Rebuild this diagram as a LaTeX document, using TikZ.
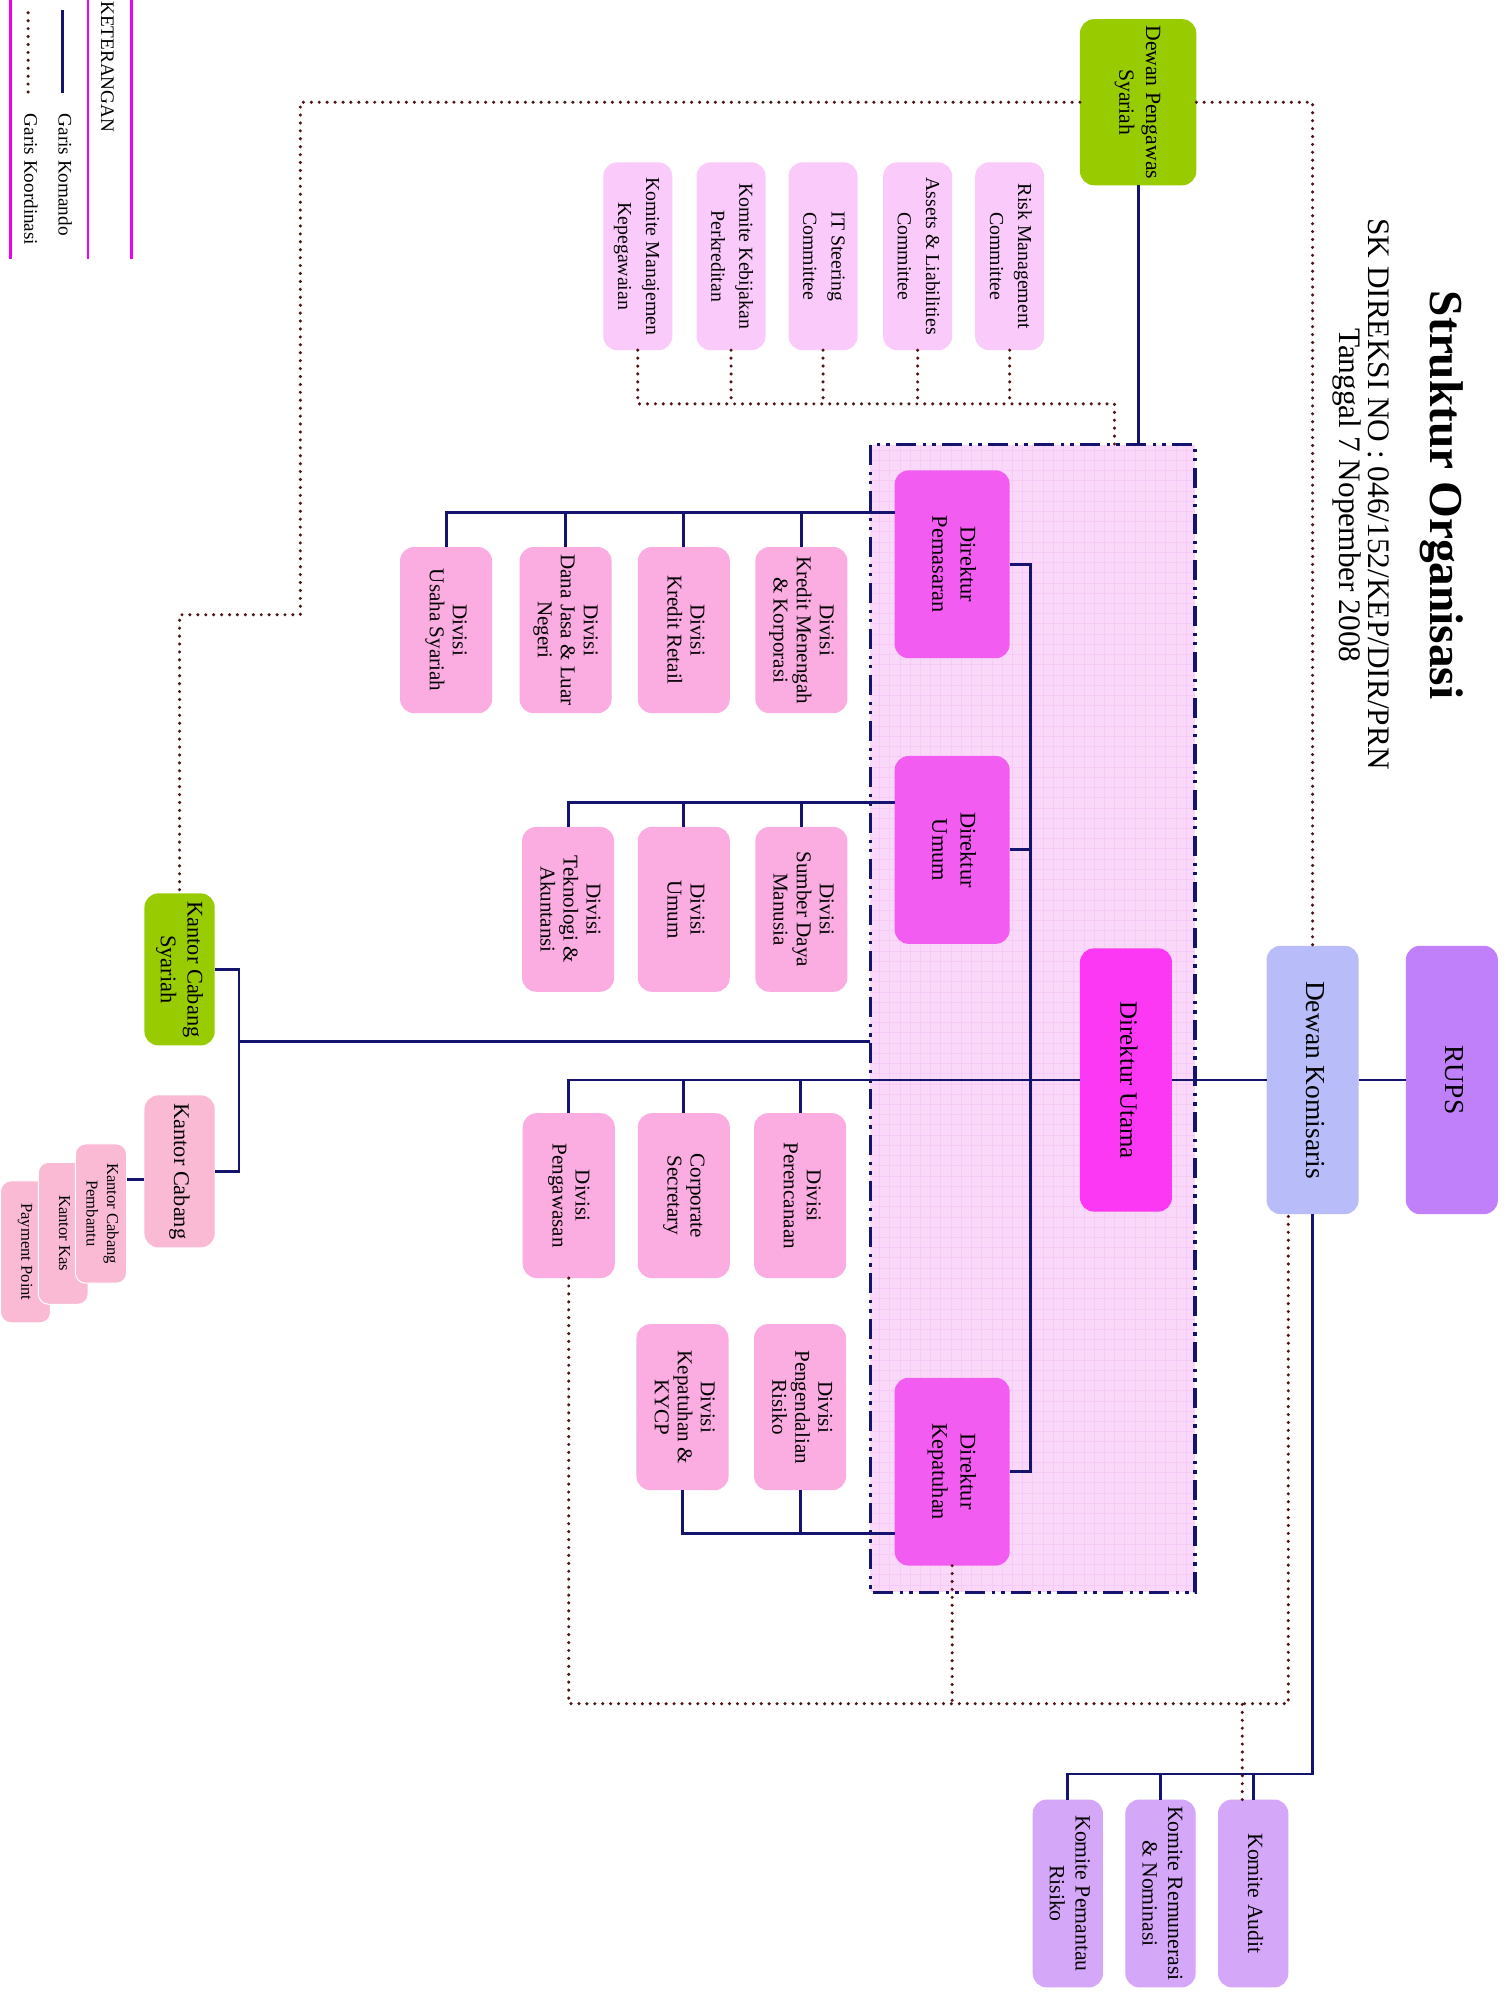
\documentclass[tikz,border=0pt]{standalone}
\usepackage{fontspec}
\setmainfont{Liberation Serif}
\usepackage{graphicx}
\usetikzlibrary{calc}
\definecolor{navy}{RGB}{20,20,110}
\definecolor{dotc}{RGB}{80,20,20}
\definecolor{rupsC}{RGB}{191,128,250}
\definecolor{dkC}{RGB}{184,189,250}
\definecolor{duC}{RGB}{252,56,245}
\definecolor{dirC}{RGB}{242,92,240}
\definecolor{divC}{RGB}{251,172,224}
\definecolor{comC}{RGB}{250,202,250}
\definecolor{komC}{RGB}{213,167,248}
\definecolor{grnC}{RGB}{153,204,0}
\definecolor{kcC}{RGB}{250,186,212}
\definecolor{boardC}{RGB}{250,216,250}
\definecolor{gridC}{RGB}{246,203,246}
\definecolor{legC}{RGB}{240,0,240}
\newcommand{\vt}[3]{\rotatebox{-90}{\fontsize{#1}{#2}\selectfont\begin{tabular}{@{}c@{}}#3\end{tabular}}}
\tikzset{
  box/.style={rounded corners=11pt, inner sep=0pt, outer sep=0pt},
  sbox/.style={rounded corners=8pt, inner sep=0pt, outer sep=0pt, draw=white, line width=0.8pt},
  sz/.style 2 args={minimum width=#1pt, minimum height=#2pt},
  cmd/.style={draw=navy, line width=2.3pt},
  crd/.style={draw=dotc, line width=2.7pt, line cap=round, dash pattern=on 0pt off 6.2pt},
  bd/.style={draw=navy, line width=2.5pt, dash pattern=on 16pt off 5pt on 2.5pt off 5pt on 2.5pt off 5pt},
  lbl/.style={inner sep=0pt, outer sep=0pt}
}
\begin{document}
\begin{tikzpicture}[x=1pt,y=-1pt]
\fill[white] (0,0) rectangle (1178,1568);
\useasboundingbox (0,0) rectangle (1178,1568);

% legend
\draw[legC, line width=2pt] (8,0) -- (8,203);
\draw[legC, line width=2pt] (69,0) -- (69,203);
\draw[legC, line width=2pt] (103,0) -- (103,203);
\node[lbl, anchor=north] (ket) at (84,1) {\rotatebox{-90}{\fontsize{15}{18}\selectfont KETERANGAN}};
\draw[cmd] (49,8) -- (49,73);
\node[lbl, anchor=north] (gk) at (51,89) {\rotatebox{-90}{\fontsize{15}{18}\selectfont Garis Komando}};
\draw[crd] (22,10) -- (22,72);
\node[lbl, anchor=north] (gko) at (24.3,89) {\rotatebox{-90}{\fontsize{15}{18}\selectfont Garis Koordinasi}};

% titles
\node[lbl] (title) at (1128,387.5) {\rotatebox{-90}{\fontsize{37}{40}\selectfont\bfseries Struktur Organisasi}};
\node[lbl] (sk) at (1079,386.5) {\rotatebox{-90}{\fontsize{24.5}{28}\selectfont SK DIREKSI NO : 046/152/KEP/DIR/PRN}};
\node[lbl] (tgl) at (1054,387.5) {\rotatebox{-90}{\fontsize{24.5}{28}\selectfont Tanggal 7 Nopember 2008}};

% board of directors area
\node[fill=boardC, sz={254}{898}, inner sep=0pt, outer sep=0pt] (board) at (808,797) {};
\begin{scope}
\clip (board.south west) rectangle (board.north east);
\draw[gridC, line width=0.35pt, step=8pt] (board.south west) grid (board.north east);
\end{scope}
\draw[bd] (board.north west) rectangle (board.south east);

% top level
\node[box, fill=rupsC, sz={72}{210}] (rups) at (1136,845) {\vt{21.5}{24}{RUPS}};
\node[box, fill=dkC, sz={72}{210}] (dk) at (1027,845) {\vt{21.5}{24}{Dewan Komisaris}};
\node[box, fill=duC, sz={72}{206}] (du) at (881,845) {\vt{19.5}{22}{Direktur Utama}};
\node[box, fill=grnC, sz={91}{130}] (dps) at (890.5,80) {\vt{17}{21}{Dewan Pengawas\\Syariah}};

% committees (top)
\node[box, fill=comC, sz={54}{147}] (rmc) at (790,200.5) {\vt{15.5}{22}{Risk Management\\Committee}};
\node[box, fill=comC, sz={54}{147}] (alc) at (718,200.5) {\vt{15.5}{22}{Assets \& Liabilities\\Committee}};
\node[box, fill=comC, sz={54}{147}] (itc) at (644,200.5) {\vt{15.5}{22}{IT Steering\\Committee}};
\node[box, fill=comC, sz={54}{147}] (kkp) at (572,200.5) {\vt{15.5}{22}{Komite Kebijakan\\Perkreditan}};
\node[box, fill=comC, sz={54}{147}] (kmj) at (499,200.5) {\vt{15.5}{22}{Komite Manajemen\\Kepegawaian}};

% directors
\node[box, fill=dirC, sz={90}{147}] (dpem) at (745,441.5) {\vt{17.5}{22}{Direktur\\Pemasaran}};
\node[box, fill=dirC, sz={90}{147}] (dum) at (745,665) {\vt{17.5}{22}{Direktur\\Umum}};
\node[box, fill=dirC, sz={90}{147}] (dkep) at (745,1151.5) {\vt{17.5}{22}{Direktur\\Kepatuhan}};

% divisions - Pemasaran
\node[box, fill=divC, sz={72}{130}] (dkm) at (627,493) {\vt{16.5}{18}{Divisi\\Kredit Menengah\\\& Korporasi}};
\node[box, fill=divC, sz={72}{130}] (dkr) at (535,493) {\vt{16.5}{18}{Divisi\\Kredit Retail}};
\node[box, fill=divC, sz={72}{130}] (ddj) at (442.5,493) {\vt{16.5}{18}{Divisi\\Dana Jasa \& Luar\\Negeri}};
\node[box, fill=divC, sz={72}{130}] (dus) at (349,493) {\vt{16.5}{18}{Divisi\\Usaha Syariah}};
% Umum
\node[box, fill=divC, sz={72}{129}] (dsdm) at (627,711.5) {\vt{16.5}{18}{Divisi\\Sumber Daya\\Manusia}};
\node[box, fill=divC, sz={72}{129}] (dumum) at (535,711.5) {\vt{16.5}{18}{Divisi\\Umum}};
\node[box, fill=divC, sz={72}{129}] (dtek) at (444.5,711.5) {\vt{16.5}{18}{Divisi\\Teknologi \&\\Akuntansi}};
% Utama
\node[box, fill=divC, sz={72}{129}] (dper) at (626,935.5) {\vt{16.5}{18}{Divisi\\Perencanaan}};
\node[box, fill=divC, sz={72}{129}] (dcs) at (535,935.5) {\vt{16.5}{18}{Corporate\\Secretary}};
\node[box, fill=divC, sz={72}{129}] (dpeng) at (445,935.5) {\vt{16.5}{18}{Divisi\\Pengawasan}};
% Kepatuhan
\node[box, fill=divC, sz={72}{130}] (dpr) at (626,1101) {\vt{16.5}{18}{Divisi\\Pengendalian\\Risiko}};
\node[box, fill=divC, sz={72}{130}] (dkyc) at (534,1101) {\vt{16.5}{18}{Divisi\\Kepatuhan \&\\KYCP}};

% komite (bottom)
\node[box, fill=komC, sz={55}{147}] (kau) at (980.5,1481.5) {\vt{17}{20}{Komite Audit}};
\node[box, fill=komC, sz={55}{147}] (krn) at (908,1481.5) {\vt{17}{20}{Komite Remunerasi\\\& Nominasi}};
\node[box, fill=komC, sz={55}{147}] (kpr) at (835.5,1481.5) {\vt{17}{20}{Komite Pemantau\\Risiko}};

% branches
\node[box, fill=grnC, sz={55}{119}] (kcs) at (140.5,758.5) {\vt{17.5}{21}{Kantor Cabang\\Syariah}};
\node[box, fill=kcC, sz={55}{119}] (kc) at (140.5,916.5) {\vt{17.5}{21}{Kantor Cabang}};
\node[sbox, fill=kcC, sz={39}{111}] (kpp) at (20,979.5) {\vt{13}{16}{Payment Point}};
\node[sbox, fill=kcC, sz={39}{111}] (kks) at (49.5,965) {\vt{13}{16}{Kantor Kas}};
\node[sbox, fill=kcC, sz={40}{109}] (kcp) at (79,949.5) {\vt{13}{16}{Kantor Cabang\\Pembantu}};

% command lines
\draw[cmd] (rups.west) -- (dk.east);
\draw[cmd] (dk.west) -- (du.east);
\draw[cmd] (du.west) -| (dpeng.north);
\draw[cmd] (dper.north) -- (dper.north |- du.west);
\draw[cmd] (dcs.north) -- (dcs.north |- du.west);
\coordinate (sp) at (806,442);
\draw[cmd] (dpem.east) -| (sp |- dkep.east) -- (dkep.east);
\draw[cmd] (dum.east) -- (sp |- dum.east);
\draw[cmd] (dpem.west |- 0,401) -| (dus.north);
\foreach \n in {dkm,dkr,ddj} \draw[cmd] (\n.north) -- (\n.north |- 0,401);
\draw[cmd] (dum.west |- 0,628) -| (dtek.north);
\foreach \n in {dsdm,dumum} \draw[cmd] (\n.north) -- (\n.north |- 0,628);
\draw[cmd] (dkep.west |- 0,1200) -| (dkyc.south);
\draw[cmd] (dpr.south) -- (dpr.south |- 0,1200);
\draw[cmd] (dps.south) -- (dps.south |- board.north);
\draw[cmd] (dk.south) |- (kpr.north |- 0,1388) -- (kpr.north);
\foreach \n in {kau,krn} \draw[cmd] (\n.north) -- (\n.north |- 0,1388);
\coordinate (bw) at (board.west |- 0,815);
\coordinate (kx) at (187,815);
\draw[cmd] (bw) -- (kx);
\draw[cmd] (kcs.east) -| (kx) |- (kc.east);
\draw[cmd] (kc.west |- 0,923) -- (kcp.east |- 0,923);

% coordination lines
\draw[crd] (dps.west) -| (235,481) -| (kcs.north);
\draw[crd] (dps.east) -| (dk.north);
\coordinate (cb) at (872,316);
\draw[crd] (kmj.south) |- (cb) -- (cb |- board.north);
\foreach \n in {kkp,itc,alc,rmc} \draw[crd] (\n.south) -- (\n.south |- cb);
\coordinate (db) at (1008,1333);
\draw[crd] (dpeng.south) |- (db) -- (db |- dk.south);
\draw[crd] (dkep.south) -- (dkep.south |- db);
\coordinate (ka) at ([xshift=-8.5pt]kau.north);
\draw[crd] (ka) -- (ka |- db);
\end{tikzpicture}
\end{document}
